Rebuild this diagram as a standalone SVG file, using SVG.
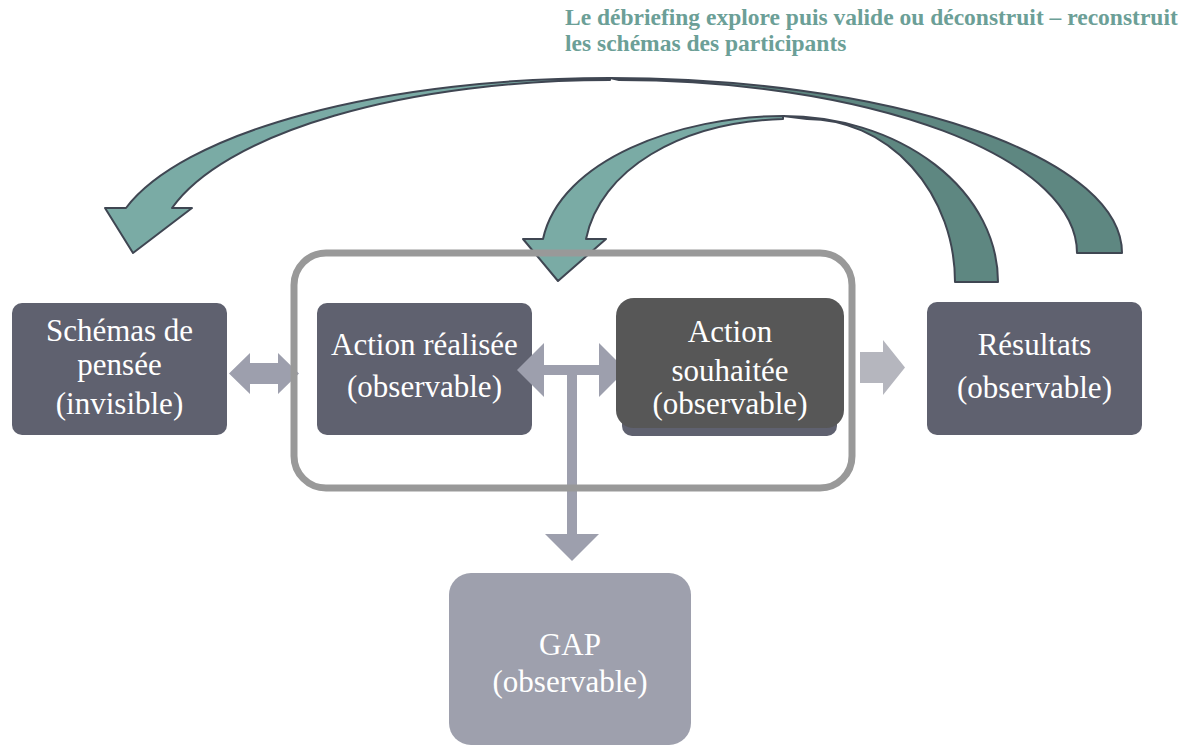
<svg xmlns="http://www.w3.org/2000/svg" width="1185" height="746" viewBox="0 0 1185 746">
  <style>
    .box { fill: #5f616f; }
    .lbl { fill: #ffffff; font-family: "Liberation Serif", "Times New Roman", serif; font-size: 31px; text-anchor: middle; }
    .title { fill: #6c9f97; font-family: "Liberation Serif", "Times New Roman", serif; font-size: 23.5px; font-weight: bold; }
    .loop-light { fill: #7aaba5; stroke: #3f4652; stroke-width: 2; stroke-linejoin: round; }
    .loop-dark { fill: #5e8781; stroke: #3f4652; stroke-width: 2; stroke-linejoin: round; }
    .link { fill: #9d9fad; }
    .link-soft { fill: #b5b6be; }
  </style>

  <!-- heading -->
  <g id="caption">
    <text class="title" x="565" y="25">Le débriefing explore puis valide ou déconstruit – reconstruit</text>
    <text class="title" x="565" y="51">les schémas des participants</text>
  </g>

  <!-- debriefing loops -->
  <g id="loops">
    <!-- outer loop: from results back to thinking schemas -->
    <path class="loop-dark" d="M 610,78 A 512 175 0 0 1 1122,253 L 1077,253 A 458 173 0 0 0 619,80 Z"/>
    <path class="loop-light" d="M 610,78 A 500 175 0 0 0 126,208 L 105,208 L 133,253 L 192,208 L 172,208 A 454 173 0 0 1 610,80 Z"/>
    <!-- inner loop: from results back to performed action -->
    <path class="loop-dark" d="M 783,116 A 215 166 0 0 1 998,282 L 955,282 A 148 163 0 0 0 807,119 Z"/>
    <path class="loop-light" d="M 783,116 C 680,116 560,160 543,239 L 523,239 L 558,281 L 606,239 L 586,239 C 600,170 680,122 783,119 Z"/>
  </g>

  <g id="node-schemas">
    <rect class="box" x="12" y="303" width="215" height="132" rx="10"/>
    <text class="lbl" x="119.5" y="341">Schémas de</text>
    <text class="lbl" x="119.5" y="375">pensée</text>
    <text class="lbl" x="119.5" y="414">(invisible)</text>
  </g>

  <g id="node-action-realisee">
    <rect class="box" x="317" y="303" width="215" height="132" rx="10"/>
    <text class="lbl" x="424.5" y="355" font-size="30">Action réalisée</text>
    <text class="lbl" x="424.5" y="397">(observable)</text>
  </g>

  <g id="node-resultats">
    <rect class="box" x="927" y="302" width="215" height="133" rx="10"/>
    <text class="lbl" x="1034.5" y="355">Résultats</text>
    <text class="lbl" x="1034.5" y="398">(observable)</text>
  </g>

  <g id="node-gap">
    <rect x="449" y="573" width="242" height="172" rx="22" fill="#9ea0ad"/>
    <text class="lbl" x="570" y="655">GAP</text>
    <text class="lbl" x="570" y="692">(observable)</text>
  </g>

  <g id="connectors">
    <!-- schemas <-> performed action -->
    <path class="link" d="M 229,373.5 L 250,353 L 250,363 L 278,363 L 278,353 L 299,373.5 L 278,394 L 278,384 L 250,384 L 250,394 Z"/>
    <!-- performed <-> desired action, with branch down to the gap -->
    <path class="link" d="M 517,370 L 544,343 L 544,365 L 599,365 L 599,343 L 626,370 L 599,397 L 599,375 L 577,375 L 577,534 L 599,534 L 572,561 L 545,534 L 567,534 L 567,375 L 544,375 L 544,397 Z"/>
    <!-- desired action -> results -->
    <path class="link-soft" d="M 860,352 L 883,352 L 883,340 L 905,367.5 L 883,395 L 883,383 L 860,383 Z"/>
  </g>

  <g id="node-action-souhaitee">
    <rect class="box" x="622" y="303" width="215" height="133" rx="10"/>
    <rect x="616" y="298" width="228" height="130" rx="18" fill="#575757"/>
    <text class="lbl" x="730" y="342">Action</text>
    <text class="lbl" x="730" y="381" font-size="28">souhaitée</text>
    <text class="lbl" x="730" y="414" font-size="30">(observable)</text>
  </g>

  <!-- frame around the two actions -->
  <g id="frame-actions">
    <rect x="294" y="253" width="558" height="235" rx="32" fill="none" stroke="#999999" stroke-width="7"/>
  </g>
</svg>
